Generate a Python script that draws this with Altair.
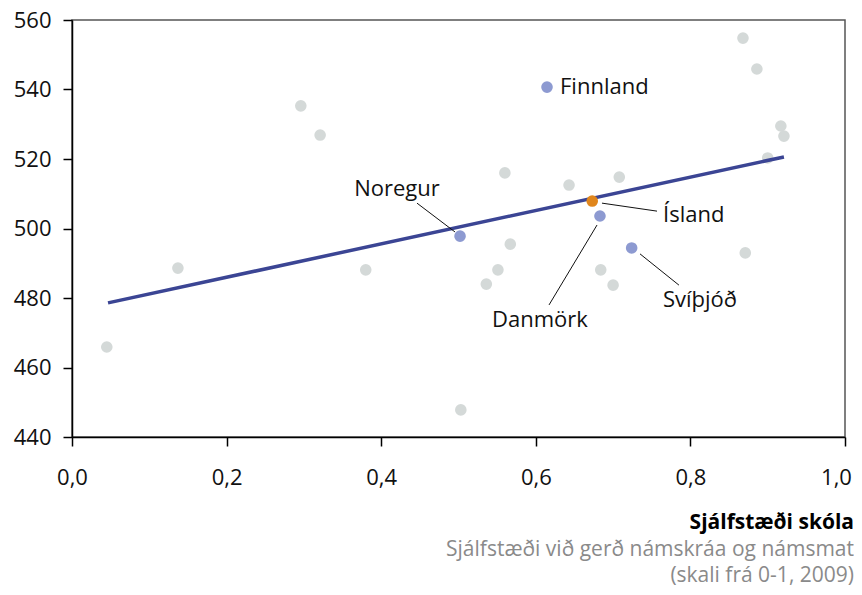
import altair as alt
import pandas as pd

# Background countries (grey)
bg_x = [0.045, 0.137, 0.296, 0.321, 0.380, 0.503, 0.536, 0.551, 0.560, 0.567,
        0.643, 0.684, 0.700, 0.708, 0.868, 0.886, 0.917, 0.921, 0.900, 0.871]
bg_y = [465.9, 488.6, 535.3, 526.9, 488.1, 447.8, 484.0, 488.1, 516.0, 495.5,
        512.5, 488.1, 483.7, 514.8, 554.8, 545.9, 529.5, 526.6, 520.3, 493.0]

# Nordic countries
nordic_names = ["Noregur", "Finnland", "Ísland", "Danmörk", "Svíþjóð"]
nordic_x = [0.502, 0.6145, 0.673, 0.683, 0.724]
nordic_y = [497.8, 540.7, 507.9, 503.6, 494.4]
nordic_group = ["other", "other", "iceland", "other", "other"]

# Trend line end points
trend_x = [0.0466, 0.921]
trend_y = [478.6, 520.6]

# Annotation label anchors (data units)
lab_text = ["Noregur", "Finnland", "Ísland", "Danmörk", "Svíþjóð"]
lab_x = [0.4204, 0.6313, 0.7646, 0.6054, 0.8124]
lab_y = [511.4, 540.7, 503.9, 473.7, 479.4]
lab_align = ["center", "left", "left", "center", "center"]

# Leader lines (data units)
lead_x1 = [0.4463, 0.6856, 0.6171, 0.7348]
lead_y1 = [507.3, 507.3, 478.0, 492.7]
lead_x2 = [0.4955, 0.7568, 0.6792, 0.7852]
lead_y2 = [499.0, 505.0, 501.0, 483.7]

FONT = "Open Sans"
FS = 22
W, H = 773, 417

bg = pd.DataFrame({"x": bg_x, "y": bg_y})
nd = pd.DataFrame({"name": nordic_names, "x": nordic_x, "y": nordic_y, "g": nordic_group})
tr = pd.DataFrame({"x": trend_x, "y": trend_y})
lb = pd.DataFrame({"t": lab_text, "x": lab_x, "y": lab_y, "a": lab_align})
ld = pd.DataFrame({"x": lead_x1, "y": lead_y1, "x2": lead_x2, "y2": lead_y2})

xscale = alt.Scale(domain=[0, 1], nice=False)
yscale = alt.Scale(domain=[440, 560], nice=False)

xaxis = alt.Axis(values=[0, 0.2, 0.4, 0.6, 0.8, 1.0],
                 labelExpr="replace(format(datum.value, '.1f'), '.', ',')",
                 title=None, grid=False, labelPadding=21, labelFlush=False,
                 labelOffset={"condition": {"test": "datum.value >= 0.99", "value": -9},
                              "value": 0})
yaxis = alt.Axis(values=[440, 460, 480, 500, 520, 540, 560],
                 title=None, grid=False, labelPadding=12, labelFlush=False)

X = alt.X("x:Q", scale=xscale, axis=xaxis)
Y = alt.Y("y:Q", scale=yscale, axis=yaxis)

pts_bg = alt.Chart(bg).mark_circle(size=135, opacity=1, color="#d4d9d8").encode(x=X, y=Y)

trend = alt.Chart(tr).mark_line(color="#3b4594", strokeWidth=3.5).encode(x=X, y=Y)

pts_nd = alt.Chart(nd).mark_circle(size=135, opacity=1).encode(
    x=X, y=Y,
    color=alt.Color("g:N", scale=alt.Scale(domain=["other", "iceland"],
                                            range=["#8d9ad1", "#e0861c"]), legend=None),
)

leaders = alt.Chart(ld).mark_rule(color="#111111", strokeWidth=1).encode(
    x=X, y=Y, x2="x2:Q", y2="y2:Q")

labels_l = alt.Chart(lb[lb.a == "left"]).mark_text(
    align="left", baseline="middle", font=FONT, fontSize=FS, color="#111111").encode(
    x=X, y=Y, text="t:N")
labels_c = alt.Chart(lb[lb.a == "center"]).mark_text(
    align="center", baseline="middle", font=FONT, fontSize=FS, color="#111111").encode(
    x=X, y=Y, text="t:N")

TX = W + 9
title1 = alt.Chart(pd.DataFrame({"t": ["Sjálfstæði skóla"]})).mark_text(
    align="right", baseline="middle", font=FONT, fontSize=21, fontWeight="bold",
    color="#000000").encode(x=alt.value(TX), y=alt.value(H + 86), text="t:N")
title2 = alt.Chart(pd.DataFrame({"t": ["Sjálfstæði við gerð námskráa og námsmat"]})).mark_text(
    align="right", baseline="middle", font=FONT, fontSize=21,
    color="#8a8a8a").encode(x=alt.value(TX), y=alt.value(H + 113), text="t:N")
title3 = alt.Chart(pd.DataFrame({"t": ["(skali frá 0-1, 2009)"]})).mark_text(
    align="right", baseline="middle", font=FONT, fontSize=21,
    color="#8a8a8a").encode(x=alt.value(TX), y=alt.value(H + 139), text="t:N")

chart = alt.layer(
    pts_bg, trend, pts_nd, leaders, labels_l, labels_c, title1, title2, title3
).properties(
    width=W, height=H,
    autosize=alt.AutoSizeParams(type="none"),
    padding={"left": 64, "top": 12, "right": 9, "bottom": 150},
).configure_view(
    stroke="#555555", strokeWidth=1.5
).configure_axis(
    domainColor="#000000", domainWidth=1.5,
    tickColor="#000000", tickWidth=1.5, tickSize=9,
    labelFont=FONT, labelFontSize=FS, labelColor="#111111",
)

chart.save("out.html", embed_options={"renderer": "svg", "actions": False})
